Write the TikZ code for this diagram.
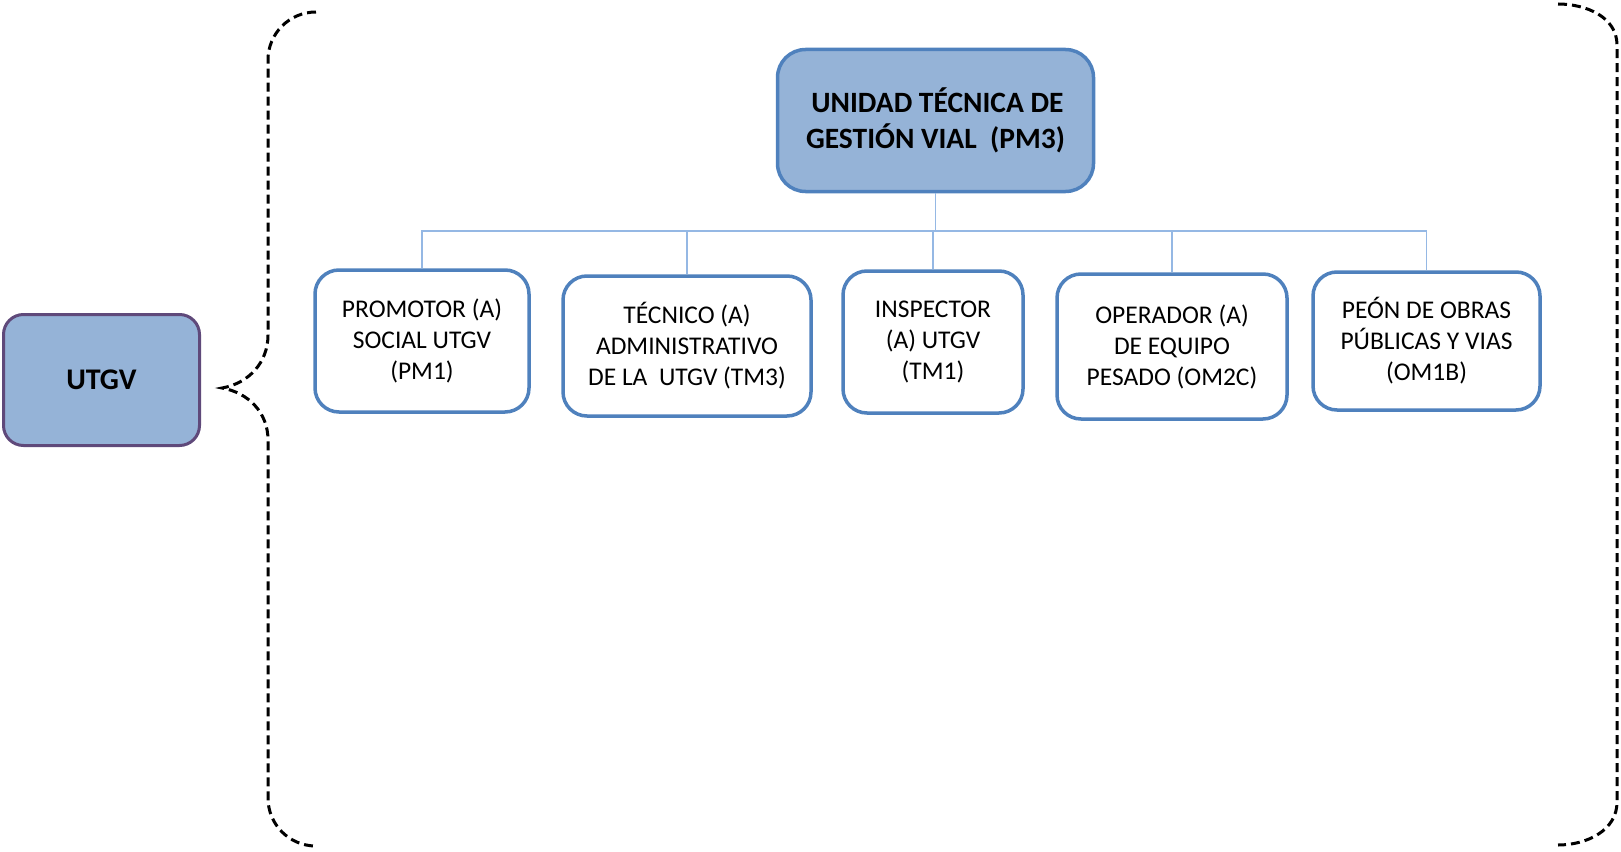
\documentclass[tikz,border=0pt]{standalone}
\usepackage{fontspec}
\setmainfont{Carlito}
\definecolor{boxfill}{HTML}{95B3D7}
\definecolor{boxline}{HTML}{4F81BD}
\definecolor{purpline}{HTML}{5F497A}
\definecolor{connline}{HTML}{95B8E4}
\tikzset{
  childbox/.style={draw=boxline, line width=3.5pt, fill=white, rounded corners=24pt, inner sep=0pt, align=center,
    font=\fontsize{25.5}{31}\selectfont},
  headbox/.style={draw=boxline, line width=3.5pt, fill=boxfill, rounded corners=28pt, inner sep=0pt, align=center,
    font=\fontsize{29.5}{36}\selectfont\bfseries},
  sidebox/.style={draw=purpline, line width=3pt, fill=boxfill, rounded corners=20pt, inner sep=0pt, align=center,
    font=\fontsize{30}{36}\selectfont\bfseries},
  conn/.style={draw=connline, line width=1.6pt},
  bracket/.style={draw=black, line width=3pt, dash pattern=on 9pt off 5pt}
}
\begin{document}
\begin{tikzpicture}[x=1pt,y=-1pt]
\useasboundingbox (0,0) rectangle (1621,851);
% brackets
\draw[bracket] (316,12) to[out=180,in=90] (268,60) -- (268,335)
  to[out=-90,in=10] (222,388) to[out=-10,in=90] (268,440) -- (268,798)
  to[out=-90,in=180] (316,846);
\draw[bracket] (1558,4) to[out=0,in=90] (1617,45) -- (1617,802)
  to[out=-90,in=0] (1558,845);
% nodes
\node[sidebox, minimum width=196pt, minimum height=131pt] (utgv) at (101.5,380) {UTGV};
\node[headbox, minimum width=316pt, minimum height=142pt] (top) at (935.5,120.5) {\hspace*{4pt}UNIDAD TÉCNICA DE\\GESTIÓN VIAL~ (PM3)};
\node[childbox, minimum width=214pt, minimum height=142pt] (c1) at (422,341) {PROMOTOR (A)\\SOCIAL UTGV\\(PM1)};
\node[childbox, minimum width=248pt, minimum height=140pt] (c2) at (687,346) {TÉCNICO (A)\\ADMINISTRATIVO\\DE LA~ UTGV (TM3)};
\node[childbox, minimum width=180pt, minimum height=142pt] (c3) at (933,342) {INSPECTOR\\(A) UTGV\\(TM1)};
\node[childbox, minimum width=230pt, minimum height=145pt] (c4) at (1172,346.5) {OPERADOR (A)\\DE EQUIPO\\PESADO (OM2C)};
\node[childbox, minimum width=227pt, minimum height=138pt] (c5) at (1426.5,341) {PEÓN DE OBRAS\\PÚBLICAS Y VIAS\\(OM1B)};
% connectors
\foreach \c in {c1,c2,c3,c4,c5}{
  \draw[conn] (top.south) -- ++(0,38) -| (\c.north);
}
\end{tikzpicture}
\end{document}
